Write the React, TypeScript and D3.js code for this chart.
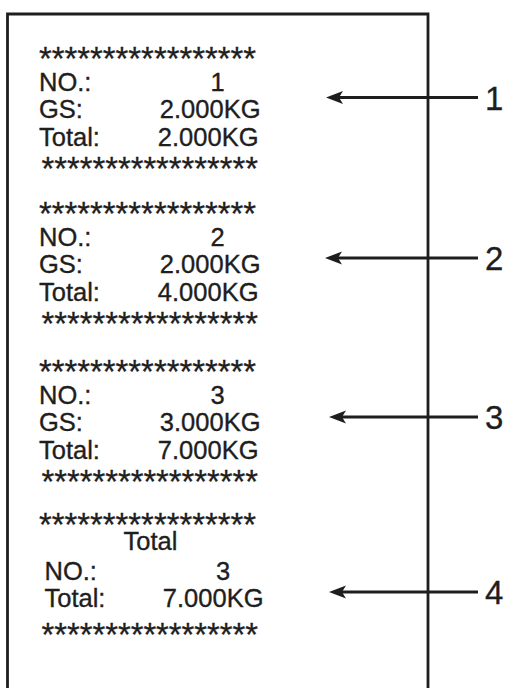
import React from "react";
import * as d3 from "d3";

// ---- data ----
const recordNo = [1, 2, 3];
const gsWeights = [2.0, 2.0, 3.0];
const runningTotals = [2.0, 4.0, 7.0];
const summaryCount = 3;
const summaryTotal = 7.0;
const calloutLabels = ["1", "2", "3", "4"];
const unit = "KG";
const starCount = 17;

const W = 510;
const H = 688;
const FONT = "'Liberation Sans', Arial, Helvetica, sans-serif";
const INK = "#1e1e1e";

const fmt = d3.format(".3f");
const stars = "*".repeat(starCount);

// block top positions (ink top of first star row)
const blockTops = [47, 202, 360, 513];
const arrowYs = [97.5, 258, 417, 592];
const arrowTipX = [326, 325, 329, 329];

function StarRow({ y, x0, x1 }: { y: number; x0: number; x1: number }) {
  return (
    <text
      x={x0}
      y={y}
      fontSize={34}
      fontFamily={FONT}
      fill={INK}
      stroke={INK}
      strokeWidth={0.3}
      textLength={x1 - x0}
      lengthAdjust="spacingAndGlyphs"
    >
      {stars}
    </text>
  );
}

function Arrow({ y, tip, label }: { y: number; tip: number; label: string }) {
  const end = 478;
  const head = d3.path();
  head.moveTo(tip, y);
  head.lineTo(tip + 17, y - 6.5);
  head.lineTo(tip + 13, y);
  head.lineTo(tip + 17, y + 6.5);
  head.closePath();
  return (
    <g>
      <line x1={tip + 10} x2={end} y1={y} y2={y} stroke={INK} strokeWidth={2.8} />
      <path d={head.toString()} fill={INK} />
      <text x={485} y={y + 12} fontSize={33} fontFamily={FONT} fill={INK} stroke={INK} strokeWidth={0.3}>
        {label}
      </text>
    </g>
  );
}

export default function App() {
  const txt = { fontSize: 25.5, fontFamily: FONT, fill: INK, stroke: INK, strokeWidth: 0.35 } as const;
  return (
    <svg
      width={W}
      height={H}
      style={{ position: "absolute", left: 0, top: 0, background: "#fff" }}
    >
      <rect x={0} y={0} width={W} height={H} fill="#fff" />
      {/* paper outline */}
      <path
        d={`M7.5,${H + 5} L7.5,14 L428,14 L428,${H + 5}`}
        fill="none"
        stroke={INK}
        strokeWidth={2.8}
      />
      {recordNo.map((n, i) => {
        const T = blockTops[i];
        return (
          <g key={i}>
            <StarRow y={T + 23} x0={39} x1={256} />
            <text x={39} y={T + 43.5} {...txt}>NO.:</text>
            <text x={217.5} y={T + 43.5} textAnchor="middle" {...txt}>{n}</text>
            <text x={39} y={T + 71} {...txt}>GS:</text>
            <text x={260.5} y={T + 71} textAnchor="end" {...txt}>
              {fmt(gsWeights[i]) + unit}
            </text>
            <text x={39} y={T + 99} {...txt}>Total:</text>
            <text x={258.5} y={T + 99} textAnchor="end" {...txt}>
              {fmt(runningTotals[i]) + unit}
            </text>
            <StarRow y={T + 133} x0={41.5} x1={258} />
          </g>
        );
      })}
      {(() => {
        const T = blockTops[3];
        return (
          <g>
            <StarRow y={T + 23} x0={39} x1={256} />
            <text x={150.5} y={T + 37} textAnchor="middle" {...txt}>Total</text>
            <text x={44.5} y={T + 67} {...txt}>NO.:</text>
            <text x={223} y={T + 67} textAnchor="middle" {...txt}>{summaryCount}</text>
            <text x={44.5} y={T + 94} {...txt}>Total:</text>
            <text x={263.5} y={T + 94} textAnchor="end" {...txt}>
              {fmt(summaryTotal) + unit}
            </text>
            <StarRow y={T + 133} x0={41.5} x1={258} />
          </g>
        );
      })()}
      {calloutLabels.map((l, i) => (
        <Arrow key={l} y={arrowYs[i]} tip={arrowTipX[i]} label={l} />
      ))}
    </svg>
  );
}
